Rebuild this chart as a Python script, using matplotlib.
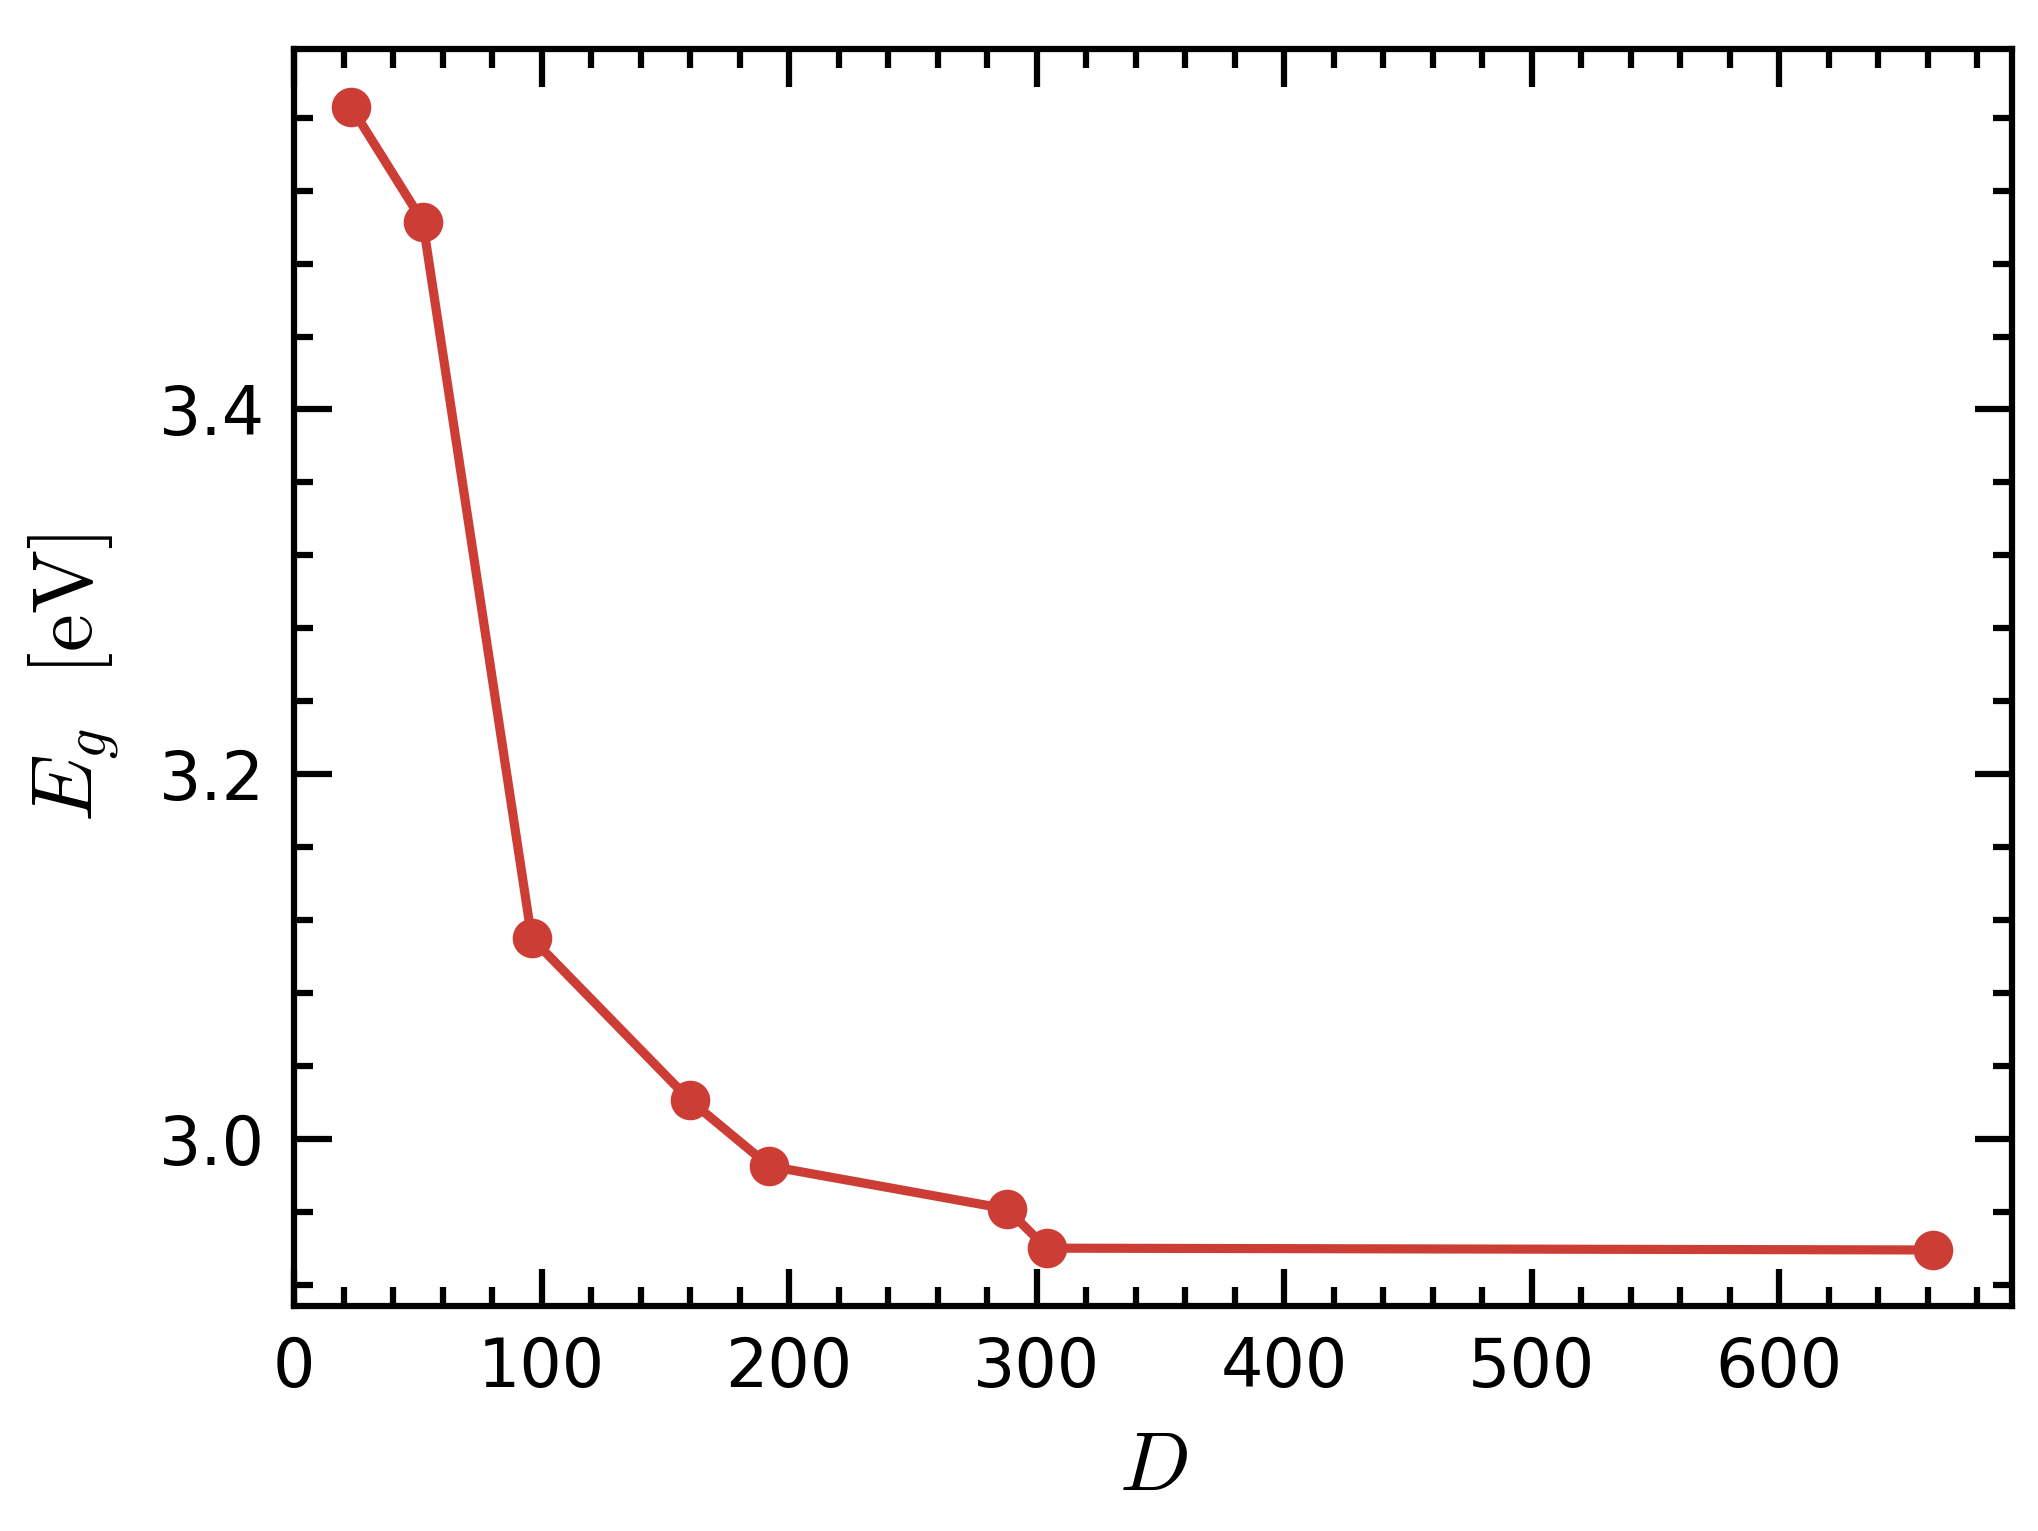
import matplotlib
matplotlib.use("Agg")
import matplotlib.pyplot as plt
from matplotlib.ticker import MultipleLocator

# bond dimension vs. gap
D = [23, 52, 96, 160, 192, 288, 304, 662]
Eg = [3.566, 3.503, 3.110, 3.021, 2.985, 2.9615, 2.940, 2.939]

plt.rcParams['mathtext.fontset'] = 'cm'
plt.rcParams['font.size'] = 16

fig = plt.figure(figsize=(2038/300, 1531/300), dpi=300)
ax = fig.add_axes([0.1443, 0.147, 0.9872-0.1443, 0.968-0.147])

ax.plot(D, Eg, '-o', color='#cc3e35', lw=2.2, ms=8.5)

ax.set_xlim(0, 694)
ax.set_ylim(2.9083, 3.5977)
ax.xaxis.set_major_locator(MultipleLocator(100))
ax.xaxis.set_minor_locator(MultipleLocator(20))
ax.yaxis.set_major_locator(MultipleLocator(0.2))
ax.yaxis.set_minor_locator(MultipleLocator(0.04))
ax.tick_params(which='both', direction='in', top=True, right=True, width=1.5)
ax.tick_params(which='major', length=9, pad=7)
ax.tick_params(which='minor', length=4.5)
for s in ax.spines.values():
    s.set_linewidth(1.5)

ax.set_xlabel(r'$D$', fontsize=20, labelpad=6)
ax.set_ylabel(r'$E_g\ \ [\mathrm{eV}]$', fontsize=20.5, labelpad=9)

fig.savefig('out.png', dpi=300)
